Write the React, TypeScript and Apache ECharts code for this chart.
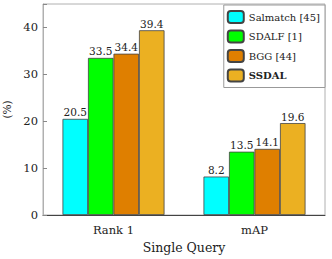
import React, { useEffect, useRef } from "react";
import * as echarts from "echarts";

const categories = ["Rank 1", "mAP"];
const seriesNames = ["Salmatch [45]", "SDALF [1]", "BGG [44]", "SSDAL"];
const salmatch = [20.5, 8.2];
const sdalf = [33.5, 13.5];
const bgg = [34.4, 14.1];
const ssdal = [39.4, 19.6];
const yTicks = [0, 10, 20, 30, 40];
const colors = ["#00FFFF", "#00FF00", "#DF7F00", "#EBB022"];

const FONT = "DejaVu Serif";

export default function App() {
  const ref = useRef<HTMLDivElement>(null);
  useEffect(() => {
    if (!ref.current) return;
    const chart = echarts.init(ref.current, undefined, { renderer: "svg" });
    const values = [salmatch, sdalf, bgg, ssdal];
    chart.setOption({
      animation: false,
      textStyle: { fontFamily: FONT },
      grid: {
        left: 43,
        right: 7,
        top: 4,
        bottom: 44,
        outerBoundsMode: "none",
        containLabel: false,
        show: true,
        borderColor: "#b0b0b0",
        borderWidth: 1,
      },
      legend: {
        orient: "vertical",
        right: 7,
        top: 5,
        padding: [5, 5, 5, 3],
        itemWidth: 16,
        itemHeight: 12,
        itemGap: 5.5,
        backgroundColor: "#fff",
        borderColor: "#999",
        borderWidth: 1,
        textStyle: { fontFamily: FONT, fontSize: 10, color: "#222" },
        data: seriesNames.map((n, i) =>
          i === 3 ? { name: n, textStyle: { fontWeight: "bold" } } : { name: n }
        ),
      },
      xAxis: {
        type: "category",
        data: categories,
        name: "Single Query",
        nameLocation: "middle",
        nameGap: 25,
        nameTextStyle: { fontFamily: FONT, fontSize: 12.5, color: "#222" },
        axisLine: { lineStyle: { color: "#444" } },
        axisTick: { show: false },
        axisLabel: { fontFamily: FONT, fontSize: 11.5, color: "#222", margin: 9 },
      },
      yAxis: {
        type: "value",
        min: 0,
        max: 45,
        interval: 10,
        name: "(%)",
        nameLocation: "middle",
        nameGap: 22,
        nameTextStyle: { fontFamily: FONT, fontSize: 10.5, color: "#222" },
        axisLine: { show: true, lineStyle: { color: "#b0b0b0" } },
        axisTick: { show: true, inside: true, length: 4, lineStyle: { color: "#888" } },
        splitLine: { show: false },
        axisLabel: {
          fontFamily: FONT,
          fontSize: 11.5,
          color: "#222",
          margin: 5,
          formatter: (v: number) => (yTicks.includes(v) ? String(v) : ""),
        },
      },
      series: seriesNames.map((n, i) => ({
        name: n,
        type: "bar",
        data: values[i],
        barWidth: 25.5,
        barGap: "0%",
        itemStyle: { color: colors[i], borderColor: "#444", borderWidth: 0.8 },
        label: {
          show: true,
          position: "top",
          distance: 1,
          fontFamily: FONT,
          fontSize: 10.5,
          color: "#222",
        },
      })),
    });
    return () => chart.dispose();
  }, []);
  return <div ref={ref} style={{ width: 332, height: 259, position: "absolute", left: 0, top: 0 }} />;
}
